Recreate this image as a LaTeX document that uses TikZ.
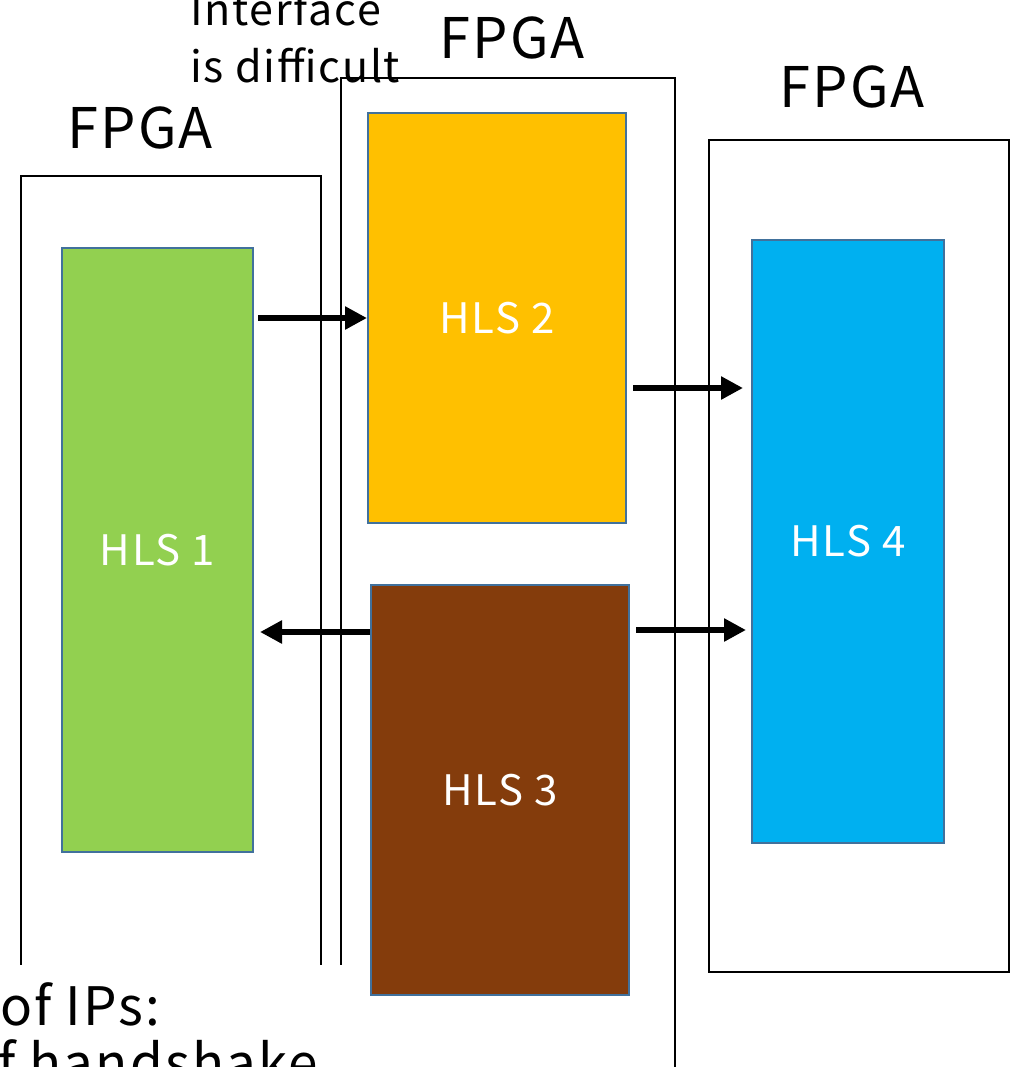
\documentclass[tikz,border=0pt]{standalone}
\usepackage{fontspec}
\setmainfont{Noto Sans CJK JP}
\newfontfamily\spacedfont{Noto Sans CJK JP}[LetterSpace=4]
\usetikzlibrary{arrows.meta}
\definecolor{hlsgreen}{HTML}{92D050}
\definecolor{hlsorange}{HTML}{FFC000}
\definecolor{hlsbrown}{HTML}{843C0C}
\definecolor{hlsblue}{HTML}{00B0F0}
\definecolor{hlsedge}{HTML}{41719C}
\tikzset{
  fpga/.style={draw=black, line width=1.1pt, fill=none, inner sep=0pt, anchor=north west},
  hls/.style={draw=hlsedge, line width=1pt, inner sep=0pt, text=white,
    font=\spacedfont\fontsize{21}{24}\selectfont},
  title/.style={inner sep=0pt, font=\spacedfont\fontsize{28}{30}\selectfont},
  note/.style={inner sep=0pt, anchor=base west, font=\spacedfont\fontsize{21.5}{24}\selectfont},
  bignote/.style={inner sep=0pt, anchor=base west, font=\spacedfont\fontsize{26.5}{30}\selectfont},
  link/.style={line width=3pt, -{Triangle[length=11pt, width=11pt]}},
}
\begin{document}
\begin{tikzpicture}[x=0.5pt, y=-0.5pt]
  \clip (0,0) rectangle (1015,1067);
  \fill[white] (0,0) rectangle (1015,1067);

  % annotation above the middle board
  \node[note] (noteA) at (190,25) {Interface};
  \node[note] (noteB) at (190,82) {is difficult};

  % FPGA boards
  \node[fpga, minimum width=150pt, minimum height=480pt] (fpgaL) at (20,175) {};
  \node[fpga, minimum width=167pt, minimum height=530pt] (fpgaM) at (340,77) {};
  \node[fpga, minimum width=150pt, minimum height=416pt] (fpgaR) at (708,139) {};

  \node[title] (labL) at (140,128) {FPGA};
  \node[title] (labM) at (512,38) {FPGA};
  \node[title] (labR) at (852,87) {FPGA};

  % HLS blocks
  \node[hls, fill=hlsgreen, minimum width=95.5pt, minimum height=302pt] (hls1) at (157.5,550) {HLS 1};
  \node[hls, fill=hlsorange, minimum width=129pt, minimum height=205pt] (hls2) at (497,318) {HLS 2};
  \node[hls, fill=hlsbrown, minimum width=129pt, minimum height=205pt] (hls3) at (500,790) {HLS 3};
  \node[hls, fill=hlsblue, minimum width=96pt, minimum height=301.5pt] (hls4) at (848,541.5) {HLS 4};

  % data paths between blocks
  \draw[link, shorten <=2pt] (hls1.east |- 0,318) -- (hls2.west |- 0,318);
  \draw[link, shorten >=3pt] (hls3.west |- 0,632) -- (hls1.east |- 0,632);
  \draw[link, shorten <=3pt, shorten >=4pt] (hls2.east |- 0,388) -- (hls4.west |- 0,388);
  \draw[link, shorten <=3pt, shorten >=2.5pt] (hls3.east |- 0,630) -- (hls4.west |- 0,630);

  % text box in the lower left corner
  \fill[white] (0,965) rectangle (365,1067);
  \node[bignote] (noteC) at (0,1025) {of IPs:};
  \node[bignote] (noteD) at (-2,1082) {f handshake};
\end{tikzpicture}
\end{document}
